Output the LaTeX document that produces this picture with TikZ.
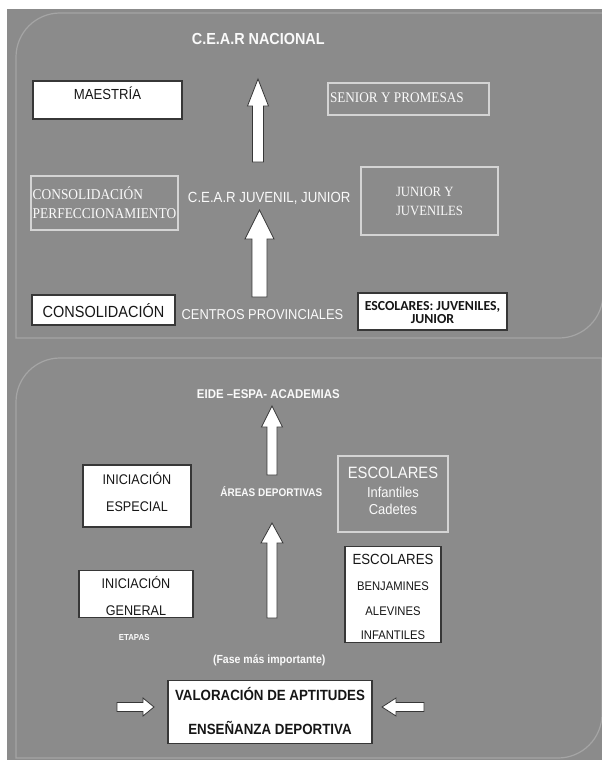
\documentclass[tikz,border=0pt]{standalone}
\usepackage{fontspec}
\setmainfont{Liberation Sans}
\newfontfamily\serf{Liberation Serif}
\newfontfamily\carl{Carlito}
\usepackage{graphicx}
\usetikzlibrary{calc}
\newcommand\sq[1]{\scalebox{0.9}[1]{#1}}
\newcommand\fs[2]{\fontsize{#1}{#2}\selectfont}
\newcommand\rows[2]{\begin{tabular}[t]{@{}#1@{}}#2\end{tabular}}
\definecolor{bg}{RGB}{139,139,139}
\definecolor{panelline}{RGB}{165,165,165}
\definecolor{lightline}{RGB}{212,212,212}
\definecolor{boxline}{RGB}{55,55,55}
\definecolor{txtw}{RGB}{250,250,250}
\definecolor{txtk}{RGB}{22,22,22}
\newcommand\blkup[5]{\filldraw[barrow] ($(#1)+({-(#3)},0)$) -- ($(#2)+({-(#3)},{#5})$) -- ($(#2)+({-(#4)},{#5})$) -- (#2) -- ($(#2)+({#4},{#5})$) -- ($(#2)+({#3},{#5})$) -- ($(#1)+({#3},0)$) -- cycle;}
\newcommand\blkh[5]{\filldraw[barrow] ($(#1)+(0,{-(#3)})$) -- ($(#2)+({-(#5)},{-(#3)})$) -- ($(#2)+({-(#5)},{-(#4)})$) -- (#2) -- ($(#2)+({-(#5)},{#4})$) -- ($(#2)+({-(#5)},{#3})$) -- ($(#1)+(0,{#3})$) -- cycle;}
\tikzset{
  wbox/.style={draw=boxline, fill=white, line width=1.2pt, text=txtk, inner sep=0pt},
  obox/.style={draw=lightline, line width=1.1pt, text=txtw, inner sep=0pt},
  lbl/.style={text=txtw, inner sep=0pt, anchor=base},
  barrow/.style={fill=white, draw=boxline, line width=0.8pt, line join=miter},
  panel/.style={draw=panelline, line width=1.2pt},
}
\begin{document}
\begin{tikzpicture}[x=1pt,y=-1pt]
\useasboundingbox (0,0) rectangle (602,760);
\fill[bg] (7,9) rectangle (602,760);
% panels
\draw[panel] (16,338) -- (16,57) arc[start angle=180, end angle=270, radius=44] -- (603,13) -- (603,294) arc[start angle=0, end angle=90, radius=44] -- cycle;
\draw[panel] (16,758) -- (16,402) arc[start angle=180, end angle=270, radius=44] -- (602,358) -- (602,714) arc[start angle=0, end angle=90, radius=44] -- cycle;

% ---------- top panel ----------
\node[lbl, font=\bfseries\fs{16}{19}] (tnac) at (258.3,45) {\sq{C.E.A.R NACIONAL}};
\node[wbox, minimum width=149pt, minimum height=38pt, font=\fs{14.6}{17}, text height=10.45pt, text depth=12pt] (maes) at (107.5,100) {\sq{MAESTRÍA}};
\node[obox, minimum width=161pt, minimum height=32pt, font=\serf\fs{14.7}{17}, text height=9.7pt, text depth=3pt] (sen) at (408.5,99) {\makebox[157pt][l]{\sq{SENIOR Y PROMESAS}}};
\node[obox, minimum width=147pt, minimum height=54pt, font=\serf\fs{14.9}{18.3}, text height=11.9pt, text depth=18.3pt] (cperf) at (104.5,203) {\rows{l}{\sq{CONSOLIDACIÓN}\\\sq{PERFECCIONAMIENTO}}};
\node[lbl, font=\fs{14.7}{17}] (cjuv) at (269.2,202.8) {\sq{C.E.A.R JUVENIL, JUNIOR}};
\node[obox, minimum width=137pt, minimum height=68pt, font=\serf\fs{14.1}{18.8}, text height=9.3pt, text depth=18.8pt] (jj) at (429.5,201) {\rows{l}{\sq{JUNIOR Y}\\\sq{JUVENILES}}};
\node[wbox, minimum width=143pt, minimum height=30pt, font=\fs{16.1}{19}, text height=14.9pt, text depth=0pt] (cons) at (103.5,310) {\sq{CONSOLIDACIÓN}};
\node[lbl, font=\fs{14.3}{17}] (cprov) at (262.5,319.3) {\sq{CENTROS PROVINCIALES}};
\node[wbox, minimum width=149pt, minimum height=37pt, font=\carl\bfseries\fs{13.8}{12.5}, text height=11.3pt, text depth=12.5pt] (escj) at (432.5,311.5) {\rows{c}{ESCOLARES: JUVENILES,\\JUNIOR}};

\coordinate (a1b) at (258,162);   \coordinate (a1t) at (258,79);
\coordinate (a2b) at (259.5,297); \coordinate (a2t) at (259.5,210);
\blkup{a1b}{a1t}{5.5}{10.5}{27}
\blkup{a2b}{a2t}{7.5}{14.5}{29}

% ---------- bottom panel ----------
\node[lbl, font=\bfseries\fs{12.7}{15}] (eide) at (268.3,398.7) {\sq{EIDE –ESPA- ACADEMIAS}};
\node[wbox, minimum width=108pt, minimum height=62pt, font=\fs{14}{27.2}, text height=10pt, text depth=34pt] (iesp) at (137,496) {\rows{c}{\sq{INICIACIÓN}\\\sq{ESPECIAL}}};
\node[lbl, font=\bfseries\fs{11.1}{13}] (areas) at (271.3,496.5) {\sq{ÁREAS DEPORTIVAS}};
\node[obox, minimum width=110pt, minimum height=76pt, font=\fs{14.4}{16.7}, text height=11.7pt, text depth=42.9pt] (escic) at (393,494) {\rows{c}{{\fs{16.4}{19}\sq{ESCOLARES}}\\[2.5pt]\sq{Infantiles}\\\sq{Cadetes}}};
\node[wbox, minimum width=114pt, minimum height=47pt, font=\fs{14}{26.2}, text height=16.4pt, text depth=26.2pt] (igen) at (136,593.7) {\rows{c}{\sq{INICIACIÓN}\\\sq{GENERAL}}};
\node[wbox, minimum width=96pt, minimum height=96pt, font=\fs{12.5}{24.5}, text height=14.5pt, text depth=75.3pt] (escb) at (393,594.7) {\rows{c}{{\fs{14.7}{17}\sq{ESCOLARES}}\\[1.8pt]\sq{BENJAMINES}\\\sq{ALEVINES}\\\sq{INFANTILES}}};
\node[lbl, font=\bfseries\fs{8.7}{10}] (etapas) at (134.2,640.1) {\sq{ETAPAS}};
\node[lbl, font=\bfseries\fs{11.7}{14}] (fase) at (269.2,663.7) {\sq{(Fase más importante)}};
\node[wbox, minimum width=204pt, minimum height=63pt, font=\bfseries\fs{14.8}{34.8}, text height=11.4pt, text depth=34.8pt] (val) at (270,711.7) {\rows{c}{\sq{VALORACIÓN DE APTITUDES}\\\sq{ENSEÑANZA DEPORTIVA}}};

\coordinate (a3b) at (272,475); \coordinate (a3t) at (272,406);
\coordinate (a4b) at (272,618); \coordinate (a4t) at (272,523);
\blkup{a3b}{a3t}{5}{10.5}{21}
\blkup{a4b}{a4t}{5}{11}{20}
\coordinate (h1s) at (117,707); \coordinate (h1e) at (154,707);
\coordinate (h2s) at (424,707); \coordinate (h2e) at (382,707);
\blkh{h1s}{h1e}{4.5}{9}{11}
\blkh{h2s}{h2e}{4.5}{9}{-14}
\end{tikzpicture}
\end{document}
